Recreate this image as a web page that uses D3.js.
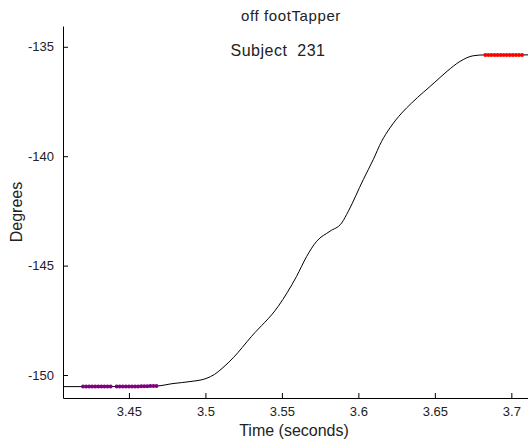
<!DOCTYPE html>
<html>
<head>
<meta charset="utf-8">
<script src="https://cdn.jsdelivr.net/npm/d3@7"></script>
<style>
  body { margin: 0; background: #fff; }
  svg { display: block; font-family: "Liberation Sans", Arial, sans-serif; }
</style>
</head>
<body>
<svg id="chart" width="528" height="440"></svg>
<script>
// ---- data ----
const curveTime = [3.4069, 3.43, 3.45, 3.4683, 3.4788, 3.4899, 3.5004, 3.5060, 3.5115, 3.5182, 3.5302, 3.5476, 3.5596, 3.5662, 3.5727, 3.5814, 3.5891, 3.5934, 3.6032, 3.6097, 3.6152, 3.6206, 3.6283, 3.6348, 3.6500, 3.6580, 3.6664, 3.6751, 3.6827, 3.7110];
const curveDeg  = [-150.53, -150.53, -150.52, -150.50, -150.39, -150.30, -150.16, -149.97, -149.66, -149.21, -148.23, -146.86, -145.49, -144.58, -143.89, -143.43, -143.05, -142.52, -141.07, -140.16, -139.32, -138.71, -138.03, -137.57, -136.62, -136.12, -135.67, -135.41, -135.37, -135.37];

const startTime = [3.420, 3.422, 3.424, 3.426, 3.428, 3.430, 3.432, 3.434, 3.436, 3.438, 3.442, 3.444, 3.446, 3.448, 3.450, 3.452, 3.454, 3.456, 3.458, 3.460, 3.462, 3.464, 3.466, 3.468];
const startDeg  = [-150.53, -150.53, -150.53, -150.53, -150.53, -150.53, -150.53, -150.53, -150.53, -150.53, -150.53, -150.53, -150.53, -150.53, -150.52, -150.52, -150.52, -150.52, -150.51, -150.51, -150.51, -150.50, -150.50, -150.50];

const endTime = [3.683, 3.685, 3.687, 3.689, 3.691, 3.693, 3.695, 3.697, 3.699, 3.701, 3.703, 3.705, 3.707];
const endDeg  = [-135.37, -135.37, -135.37, -135.37, -135.37, -135.37, -135.37, -135.37, -135.37, -135.37, -135.37, -135.37, -135.37];

const xTicks = [3.45, 3.5, 3.55, 3.6, 3.65, 3.7];
const xTickLabels = ["3.45", "3.5", "3.55", "3.6", "3.65", "3.7"];
const yTicks = [-135, -140, -145, -150];
const yTickLabels = ["-135", "-140", "-145", "-150"];

const titleText = "off footTapper";
const subtitleText = "Subject  231";
const xLabel = "Time (seconds)";
const yLabel = "Degrees";

// ---- layout ----
const svg = d3.select("#chart");
const mLeft = 63, mRight = 530, mTop = 26, mBottom = 398;

const x = d3.scaleLinear().domain([3.4069, 3.7122]).range([mLeft, mRight]);
const y = d3.scaleLinear().domain([-151.05, -134.05]).range([mBottom, mTop]);

// axes
const xAxis = d3.axisBottom(x).tickValues(xTicks)
  .tickFormat((d, i) => xTickLabels[i]).tickSizeInner(-5).tickSizeOuter(0).tickPadding(9);
const yAxis = d3.axisLeft(y).tickValues(yTicks)
  .tickFormat((d, i) => yTickLabels[i]).tickSizeInner(-5).tickSizeOuter(0).tickPadding(9);

const gx = svg.append("g").attr("transform", `translate(0,${mBottom})`).call(xAxis);
const gy = svg.append("g").attr("transform", `translate(${mLeft},0)`).call(yAxis);
[gx, gy].forEach(g => {
  g.select(".domain").attr("stroke", "#000").attr("stroke-width", 1);
  g.selectAll(".tick line").attr("stroke", "#000");
  g.selectAll(".tick text").attr("fill", "#222").style("font-size", "13px")
   .style("font-family", "'Liberation Sans', Arial, sans-serif");
});

// curve
const line = d3.line().x(d => x(d[0])).y(d => y(d[1])).curve(d3.curveMonotoneX);
svg.append("path")
  .datum(curveTime.map((t, i) => [t, curveDeg[i]]))
  .attr("d", line).attr("fill", "none").attr("stroke", "#000").attr("stroke-width", 1);

// markers
svg.append("g").selectAll("circle")
  .data(startTime.map((t, i) => [t, startDeg[i]]))
  .join("circle").attr("cx", d => x(d[0])).attr("cy", d => y(d[1])).attr("r", 2)
  .attr("fill", "#800080");
svg.append("g").selectAll("circle")
  .data(endTime.map((t, i) => [t, endDeg[i]]))
  .join("circle").attr("cx", d => x(d[0])).attr("cy", d => y(d[1])).attr("r", 2)
  .attr("fill", "#ff0000");

// text
svg.append("text").attr("x", 291).attr("y", 21).attr("text-anchor", "middle")
  .attr("fill", "#222").style("font-size", "15px").style("letter-spacing", "0.6px").text(titleText);
svg.append("text").attr("x", 278).attr("y", 56).attr("text-anchor", "middle")
  .attr("fill", "#222").style("font-size", "16px").style("letter-spacing", "0.5px")
  .style("white-space", "pre").text(subtitleText);
svg.append("text").attr("x", 294).attr("y", 436).attr("text-anchor", "middle")
  .attr("fill", "#222").style("font-size", "16px").text(xLabel);
svg.append("text").attr("transform", `translate(22,212) rotate(-90)`).attr("text-anchor", "middle")
  .attr("fill", "#222").style("font-size", "16px").text(yLabel);
</script>
</body>
</html>
